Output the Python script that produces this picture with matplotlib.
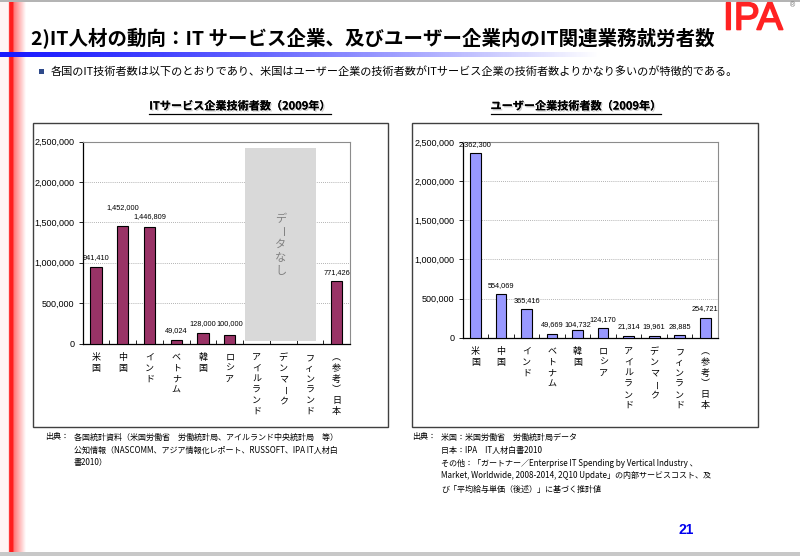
import numpy as np
import matplotlib
matplotlib.use("Agg")
import matplotlib.pyplot as plt
import matplotlib.patheffects as pe
from matplotlib.patches import Rectangle
from matplotlib.transforms import blended_transform_factory

plt.rcParams["font.family"] = ["Noto Sans CJK JP", "DejaVu Sans"]

# ---- data -------------------------------------------------------------
COUNTRIES = ["米国", "中国", "インド", "ベトナム", "韓国", "ロシア",
             "アイルランド", "デンマーク", "フィンランド", "（参考）日本"]
IT_SERVICE = [941410, 1452000, 1446809, 49024, 128000, 100000,
              None, None, None, 771426]
USER_FIRMS = [2362300, 554069, 365416, 49669, 104732, 124170,
              21314, 19961, 28885, 254721]
Y_TICKS = [0, 500000, 1000000, 1500000, 2000000, 2500000]

TITLE = "2)IT人材の動向：IT サービス企業、及びユーザー企業内のIT関連業務就労者数"
LEAD = ("各国のIT技術者数は以下のとおりであり、米国はユーザー企業の技術者数が"
        "ITサービス企業の技術者数よりかなり多いのが特徴的である。")
LEFT_TITLE = "ITサービス企業技術者数（2009年）"
RIGHT_TITLE = "ユーザー企業技術者数（2009年）"
NO_DATA = "データなし"
LEFT_SOURCE = [
    "各国統計資料（米国労働省　労働統計局、アイルランド中央統計局　等）",
    "公知情報（NASCOMM、アジア情報化レポート、RUSSOFT、IPA IT人材白",
    "書2010）",
]
RIGHT_SOURCE = [
    "米国：米国労働省　労働統計局データ",
    "日本：IPA　IT人材白書2010",
    "その他：「ガートナー／Enterprise IT Spending by Vertical Industry 、",
    "Market, Worldwide, 2008-2014, 2Q10 Update」の内部サービスコスト、及",
    "び「平均給与単価（後述）」に基づく推計値",
]
PAGE = "21"

W, H = 800, 556
LEFT_COLOR = "#993366"
RIGHT_COLOR = "#9999ff"
NUM_FONT = "Liberation Sans"
ROTATED = "ー"
VERTICAL_FORMS = {"（": "︵", "）": "︶"}


def px_axes(fig, l, t, r, b):
    return fig.add_axes([l / W, 1 - b / H, (r - l) / W, (b - t) / H])


def vertical_stack(ax, text, x, y, start, step, **kw):
    """Write text top-to-bottom, starting `start` px below (x, y)."""
    for k, ch in enumerate(text):
        ax.annotate(VERTICAL_FORMS.get(ch, ch), (x, y),
                    xycoords=("data", "axes fraction"),
                    xytext=(0, -(start + k * step) * 0.72),
                    textcoords="offset points", ha="center", va="center",
                    rotation=270 if ch in ROTATED else 0,
                    annotation_clip=False, **kw)


def draw_chart(ax, values, color, label_dy):
    x = np.arange(len(COUNTRIES))
    vals = np.array([np.nan if v is None else v for v in values], float)
    ax.bar(x, vals, width=0.42, color=color, edgecolor="black",
           linewidth=0.8, zorder=3)
    ax.set_xlim(-0.5, len(x) - 0.5)
    ax.set_ylim(0, Y_TICKS[-1])
    ax.set_yticks(Y_TICKS)
    ax.set_yticklabels([f"{v:,}" for v in Y_TICKS], fontfamily=NUM_FONT,
                       fontsize=6.5)
    ax.tick_params(axis="y", direction="out", length=3, width=0.6, pad=3)
    ax.set_xticks(np.arange(len(x) + 1) - 0.5)
    ax.set_xticklabels([])
    ax.tick_params(axis="x", direction="in", length=3, width=0.6)
    ax.grid(axis="y", linestyle=(0, (1, 1.5)), color="#9a9a9a", linewidth=0.6)
    ax.set_axisbelow(True)
    for s in ["top", "right"]:
        ax.spines[s].set_color("#8c8c8c")
        ax.spines[s].set_linewidth(0.8)
    for s in ["left", "bottom"]:
        ax.spines[s].set_color("black")
        ax.spines[s].set_linewidth(0.9)

    for i, v in enumerate(vals):
        if np.isnan(v):
            continue
        ax.annotate(f"{int(v):,}", (i, v), xytext=(0, label_dy[i] * 0.72),
                    textcoords="offset points", ha="center", va="center",
                    fontsize=5.3, fontfamily=NUM_FONT, zorder=5)

    for i, name in enumerate(COUNTRIES):
        vertical_stack(ax, name, i, 0, 14, 10.8, fontsize=6.5)


fig = plt.figure(figsize=(W / 100, H / 100), dpi=100)
fig.patch.set_facecolor("white")

bg = fig.add_axes([0, 0, 1, 1])
bg.set_xlim(0, W)
bg.set_ylim(H, 0)
bg.axis("off")

# slide decorations
bg.add_patch(Rectangle((0, 0), W, 2, color="#b4b4b4", lw=0))
bg.add_patch(Rectangle((0, 552), W, 4, color="#c8c8c8", lw=0))

cols = np.linspace(0, 26, 261)
red = np.ones((1, len(cols), 3))
for j, c in enumerate(cols):
    if c < 9:
        red[0, j] = (1.0, 0.96, 0.96)
    elif c < 13.5:
        red[0, j] = (1.0, 0.12, 0.12)
    else:
        t = (c - 13.5) / 12.5
        red[0, j] = (1.0, 0.45 + 0.55 * t, 0.45 + 0.55 * t)
bg.imshow(red, extent=(0, 26, 552, 2), aspect="auto", interpolation="bilinear",
          zorder=1)

blue = np.zeros((1, 400, 4))
blue[0, :, 0] = 0.1
blue[0, :, 1] = 0.1
blue[0, :, 2] = 1.0
blue[0, :, 3] = 1 - np.linspace(0, 1, 400) ** 1.3
bg.imshow(blue, extent=(0, 600, 57.5, 53), aspect="auto",
          interpolation="bilinear", zorder=2)

bg.text(31, 39, TITLE, ha="left", va="center", fontsize=14,
        fontweight="bold", zorder=3)
bg.text(723, 29.5, "IPA", ha="left", va="baseline", fontsize=28,
        fontfamily=NUM_FONT, color="#ff2222", zorder=3,
        path_effects=[pe.withStroke(linewidth=1.2, foreground="#ff2222")])
bg.text(793, 6, "®", ha="center", va="center", fontsize=5,
        fontfamily=NUM_FONT, color="#666666")

bg.add_patch(Rectangle((39, 68.5), 5, 5, color="#2e4a8a", lw=0))
bg.text(51, 71, LEAD, ha="left", va="center", fontsize=8)

# frames
bg.add_patch(Rectangle((32.7, 123.3), 355, 304, fill=False,
                       edgecolor="#404040", lw=1.0))
bg.add_patch(Rectangle((412.2, 123.3), 345.3, 304, fill=False,
                       edgecolor="#404040", lw=1.0))

shadow = [pe.withSimplePatchShadow(offset=(1, -1), shadow_rgbFace="#888888",
                                   alpha=0.4), pe.Normal()]
t_left = bg.text(240, 106, LEFT_TITLE, ha="center", va="center", fontsize=8,
                 fontweight="bold", path_effects=shadow)
t_right = bg.text(576, 106, RIGHT_TITLE, ha="center", va="center",
                  fontsize=8, fontweight="bold", path_effects=shadow)

# sources
bg.text(45, 437, "出典：", ha="left", va="center", fontsize=5.8)
for k, line in enumerate(LEFT_SOURCE):
    bg.text(74, 437 + 13 * k, line, ha="left", va="center", fontsize=5.8)
bg.text(412, 437, "出典：", ha="left", va="center", fontsize=5.8)
for k, line in enumerate(RIGHT_SOURCE):
    bg.text(441, 437 + 13 * k, line, ha="left", va="center", fontsize=5.8)

bg.text(686, 530, PAGE, ha="center", va="center", fontsize=10,
        fontweight="bold", fontfamily=NUM_FONT, color="#0000ee")

# left chart
ax1 = px_axes(fig, 82.7, 141.5, 350, 343.5)
draw_chart(ax1, IT_SERVICE, LEFT_COLOR, [10, 19, 10, 9, 9.6, 12, 0, 0, 0, 9])
missing = [i for i, v in enumerate(IT_SERVICE) if v is None]
tr = blended_transform_factory(ax1.transData, ax1.transAxes)
x0, x1 = missing[0] - 0.43, missing[-1] + 0.23
ax1.add_patch(Rectangle((x0, 0.012), x1 - x0, 0.958, transform=tr,
                        facecolor="#d9d9d9", edgecolor="none", zorder=4))
vertical_stack(ax1, NO_DATA, (x0 + x1) / 2, 0.49, -26, 13, fontsize=8,
               color="#808080", zorder=5)

# right chart
ax2 = px_axes(fig, 462.7, 142, 718, 337.7)
draw_chart(ax2, USER_FIRMS, RIGHT_COLOR,
           [8.5, 8.3, 9, 8.8, 4.5, 8.7, 9.3, 9.3, 9.3, 9.5])

# underline the chart titles
fig.canvas.draw()
inv = bg.transData.inverted()
for t in (t_left, t_right):
    bb = t.get_window_extent()
    (xa, ya), (xb, yb) = inv.transform([[bb.x0, bb.y0], [bb.x1, bb.y1]])
    bg.plot([xa, xb], [ya + 1, ya + 1], color="black", lw=0.8,
            path_effects=shadow)

fig.savefig("out.png", dpi=100)
